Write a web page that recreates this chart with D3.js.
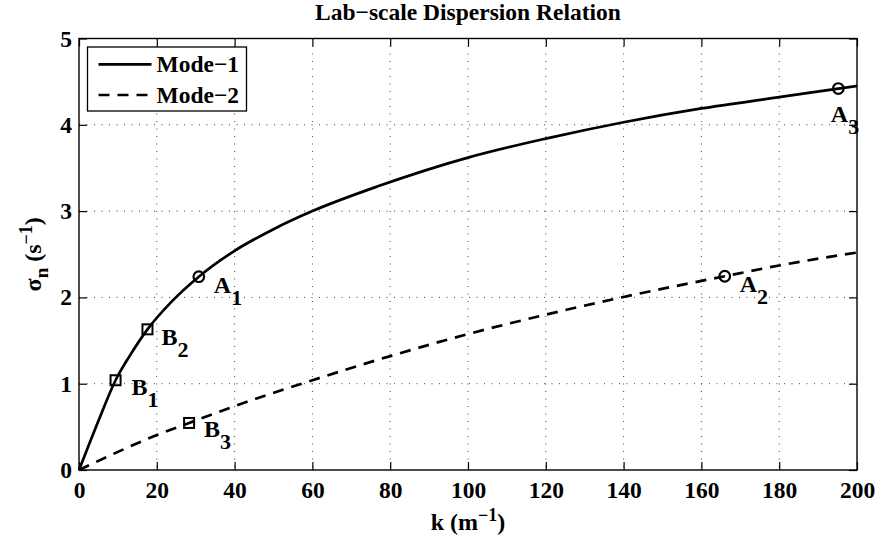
<!DOCTYPE html>
<html>
<head>
<meta charset="utf-8"/>
<title>Lab-scale Dispersion Relation</title>
<script src="https://cdn.jsdelivr.net/npm/d3@7"></script>
<style>
  body { margin: 0; background: #fff; }
  svg text { font-family: "Liberation Serif", "Times New Roman", serif; font-weight: bold; fill: #000; }
</style>
</head>
<body>
<svg id="chart" width="878" height="539"></svg>
<script>
// values
var mode1K     = [0, 2, 5, 9.4, 13, 17.6, 24, 30.8, 40, 50, 60, 77, 100, 120, 140, 160, 180, 195.2, 200];
var mode1Sigma = [0, 0.23, 0.57, 1.04, 1.32, 1.63, 1.96, 2.24, 2.54, 2.79, 3.00, 3.29, 3.62, 3.84, 4.03, 4.19, 4.32, 4.42, 4.45];

var mode2K     = [0, 10, 20, 28.3, 40, 60, 80, 100, 120, 140, 166, 180, 200];
var mode2Sigma = [0, 0.21, 0.405, 0.545, 0.74, 1.04, 1.32, 1.575, 1.80, 2.005, 2.245, 2.37, 2.52];

var pointLabels = ["A", "A", "A", "B", "B", "B"];
var pointSubs   = ["1", "2", "3", "1", "2", "3"];
var pointK      = [30.8, 166, 195.2, 9.4, 17.6, 28.3];
var pointSigma  = [2.24, 2.245, 4.42, 1.04, 1.63, 0.545];

var xTicks = [0, 20, 40, 60, 80, 100, 120, 140, 160, 180, 200];
var yTicks = [0, 1, 2, 3, 4, 5];
var seriesNames = ["Mode\u22121", "Mode\u22122"];

// label offsets from their marker (pixels)
var labelOffset = {
  A1: [15, 16], A2: [15, 16], A3: [-7.5, 33],
  B1: [16, 15], B2: [14, 16], B3: [15, 14]
};

var svg = d3.select("#chart"),
    margin = {top: 38.5, right: 21, bottom: 69, left: 79},
    width = +svg.attr("width") - margin.left - margin.right,
    height = +svg.attr("height") - margin.top - margin.bottom,
    g = svg.append("g").attr("transform", "translate(" + margin.left + "," + margin.top + ")");

var x = d3.scaleLinear().domain([0, 200]).range([0, width]);
var y = d3.scaleLinear().domain([0, 5]).range([height, 0]);

// grid
g.append("g").selectAll("line").data(xTicks.slice(1, -1)).join("line")
    .attr("x1", function(d) { return x(d); }).attr("x2", function(d) { return x(d); })
    .attr("y1", 0).attr("y2", height)
    .attr("stroke", "#444").attr("stroke-width", 1).attr("stroke-dasharray", "1,6.5");
g.append("g").selectAll("line").data(yTicks.slice(1, -1)).join("line")
    .attr("y1", function(d) { return y(d); }).attr("y2", function(d) { return y(d); })
    .attr("x1", 0).attr("x2", width)
    .attr("stroke", "#444").attr("stroke-width", 1).attr("stroke-dasharray", "1,6.5");

// axes: ticks inward on all four sides
function styleAxis(sel) {
  sel.select(".domain").remove();
  sel.selectAll(".tick line").attr("stroke", "#000").attr("stroke-width", 1.2);
  sel.selectAll("text").style("font-size", "23.5px");
}
g.append("g").attr("transform", "translate(0," + height + ")")
    .call(d3.axisBottom(x).tickValues(xTicks).tickSize(-8).tickPadding(11).tickFormat(d3.format("d")))
    .call(styleAxis);
g.append("g")
    .call(d3.axisLeft(y).tickValues(yTicks).tickSize(-8).tickPadding(7).tickFormat(d3.format("d")))
    .call(styleAxis);
g.append("g")
    .call(d3.axisTop(x).tickValues(xTicks).tickSize(-8).tickFormat(""))
    .call(styleAxis);
g.append("g").attr("transform", "translate(" + width + ",0)")
    .call(d3.axisRight(y).tickValues(yTicks).tickSize(-8).tickFormat(""))
    .call(styleAxis);

g.append("rect").attr("width", width).attr("height", height)
    .attr("fill", "none").attr("stroke", "#000").attr("stroke-width", 1.4);

// curves
var line = d3.line()
    .x(function(d) { return x(d[0]); })
    .y(function(d) { return y(d[1]); })
    .curve(d3.curveMonotoneX);

g.append("path")
    .datum(d3.zip(mode1K, mode1Sigma))
    .attr("fill", "none").attr("stroke", "#000").attr("stroke-width", 2.7)
    .attr("d", line);
g.append("path")
    .datum(d3.zip(mode2K, mode2Sigma))
    .attr("fill", "none").attr("stroke", "#000").attr("stroke-width", 2.7)
    .attr("stroke-dasharray", "11,8")
    .attr("d", line);

// markers and labels
var pts = pointK.map(function(k, i) {
  return {k: k, s: pointSigma[i], name: pointLabels[i], sub: pointSubs[i]};
});
pts.forEach(function(p) {
  var px = x(p.k), py = y(p.s);
  if (p.name === "A") {
    g.append("circle").attr("cx", px).attr("cy", py).attr("r", 5.3)
        .attr("fill", "none").attr("stroke", "#000").attr("stroke-width", 2.2);
  } else {
    g.append("rect").attr("x", px - 5).attr("y", py - 5).attr("width", 10).attr("height", 10)
        .attr("fill", "none").attr("stroke", "#000").attr("stroke-width", 2);
  }
  var off = labelOffset[p.name + p.sub];
  var t = g.append("text").attr("x", px + off[0]).attr("y", py + off[1])
      .style("font-size", "24px");
  t.append("tspan").text(p.name);
  t.append("tspan").attr("dy", 12).style("font-size", "22px").text(p.sub);
});

// titles
svg.append("text").attr("x", margin.left + width / 2).attr("y", 20)
    .attr("text-anchor", "middle").style("font-size", "23.5px")
    .text("Lab\u2212scale Dispersion Relation");

var xl = svg.append("text").attr("x", margin.left + width / 2).attr("y", 530)
    .attr("text-anchor", "middle").style("font-size", "24px");
xl.append("tspan").text("k (m");
xl.append("tspan").attr("dy", -9).style("font-size", "18px").text("\u22121");
xl.append("tspan").attr("dy", 9).text(")");

var yl = svg.append("text")
    .attr("transform", "translate(41," + (margin.top + height / 2) + ") rotate(-90)")
    .attr("text-anchor", "middle").style("font-size", "24px");
yl.append("tspan").text("\u03c3");
yl.append("tspan").attr("dy", 7).style("font-size", "19px").text("n");
yl.append("tspan").attr("dy", -7).text(" (s");
yl.append("tspan").attr("dy", -9).style("font-size", "18px").text("\u22121");
yl.append("tspan").attr("dy", 9).text(")");

// legend
var leg = g.append("g").attr("transform", "translate(8.5,8.5)");
leg.append("rect").attr("width", 159).attr("height", 64)
    .attr("fill", "#fff").attr("stroke", "#000").attr("stroke-width", 1.3);
seriesNames.forEach(function(name, i) {
  var ly = 17.3 + i * 30.7;
  leg.append("line").attr("x1", 11).attr("x2", 64).attr("y1", ly).attr("y2", ly)
      .attr("stroke", "#000").attr("stroke-width", 2.7)
      .attr("stroke-dasharray", i === 1 ? "11,8" : null);
  leg.append("text").attr("x", 69).attr("y", ly + 8).style("font-size", "23.5px").text(name);
});
</script>
</body>
</html>
